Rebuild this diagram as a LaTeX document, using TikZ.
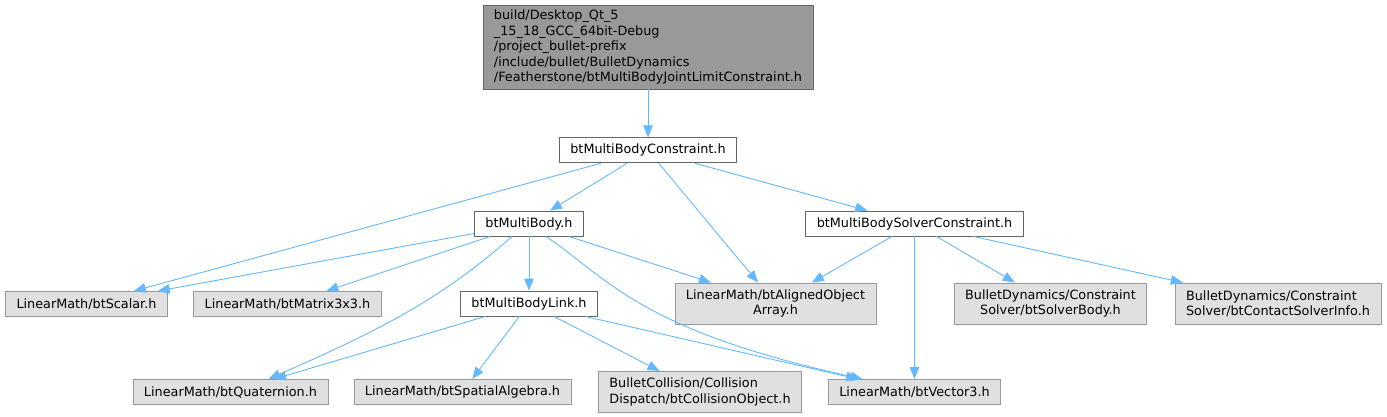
\documentclass[tikz,border=0pt]{standalone}
\usepackage{fontspec}
\setmainfont{DejaVu Sans}
\usepackage{tikz}
\usetikzlibrary{positioning, arrows.meta}
\definecolor{DepBlue}{HTML}{63B8FF}
\definecolor{RootGray}{HTML}{999999}
\definecolor{LeafGray}{HTML}{E0E0E0}
\definecolor{FrameGray}{HTML}{666666}

\begin{document}
\begin{tikzpicture}[
            x=1pt, y=-1pt,
            font=\fontsize{12.8pt}{15.5pt}\selectfont,
            file/.style={draw=FrameGray, line width=0.9pt, fill=white, inner xsep=11pt, inner ysep=4pt, minimum height=25pt, align=center},
            rootfile/.style={file, fill=RootGray, align=left, minimum height=84pt},
            leaf/.style={file, draw=RootGray, fill=LeafGray},
            leaftwo/.style={leaf, minimum height=41pt},
            dep/.style={-{Triangle[length=12pt, width=9.5pt]}, line width=0.9pt, DepBlue}
        ]
            \useasboundingbox (0,0) rectangle (1387,417);

            \node[rootfile] at (648,47) (root) {build/Desktop\_Qt\_5\\\_15\_18\_GCC\_64bit-Debug\\/project\_bullet-prefix\\/include/bullet/BulletDynamics\\/Featherstone/btMultiBodyJointLimitConstraint.h};
            \node[file, below=48pt of root] (constraint) {btMultiBodyConstraint.h};

            \node[file] at (529,223.5) (body) {btMultiBody.h};
            \node[file] at (914.5,223.5) (solver) {btMultiBodySolverConstraint.h};

            \node[leaf] at (86.5,304) (scalar) {LinearMath/btScalar.h};
            \node[leaf] at (287.5,304) (matrix) {LinearMath/btMatrix3x3.h};
            \node[file] at (529,303.5) (link) {btMultiBodyLink.h};
            \node[leaftwo] at (775.5,303.5) (aligned) {LinearMath/btAlignedObject\\Array.h};
            \node[leaftwo] at (1050.5,303.5) (solverbody) {BulletDynamics/Constraint\\Solver/btSolverBody.h};
            \node[leaftwo, align=left] at (1278,303.5) (contactinfo) {BulletDynamics/Constraint\\Solver/btContactSolverInfo.h};

            \node[leaf] at (230.5,392) (quaternion) {LinearMath/btQuaternion.h};
            \node[leaf] at (462.5,392) (spatial) {LinearMath/btSpatialAlgebra.h};
            \node[leaftwo, align=left] at (700,392) (collobj) {BulletCollision/Collision\\Dispatch/btCollisionObject.h};
            \node[leaf] at (914.5,392) (vector) {LinearMath/btVector3.h};

            \draw[dep] (root) -- (constraint);

            \draw[dep] (constraint) -- (body);
            \draw[dep] (constraint) -- (scalar);
            \draw[dep] (constraint) -- (aligned);
            \draw[dep] (constraint) -- (solver);

            \draw[dep] (body) -- (scalar);
            \draw[dep] (body) -- (matrix);
            \draw[dep] (body) -- (link);
            \draw[dep] (body) -- (aligned);
            \draw[dep] ([xshift=-17pt]body.south) .. controls (440,300) and (380,330) .. ([xshift=38pt]quaternion.north);
            \draw[dep] ([xshift=17pt]body.south) .. controls (610,280) and (640,330) .. ([xshift=-52pt]vector.north);

            \draw[dep] (solver) -- (aligned);
            \draw[dep] (solver) -- (vector);
            \draw[dep] (solver) -- (solverbody);
            \draw[dep] (solver) -- (contactinfo);

            \draw[dep] (link) -- (quaternion);
            \draw[dep] (link) -- (spatial);
            \draw[dep] (link) -- (collobj);
            \draw[dep] (link) -- (vector);

        \end{tikzpicture}
\end{document}
